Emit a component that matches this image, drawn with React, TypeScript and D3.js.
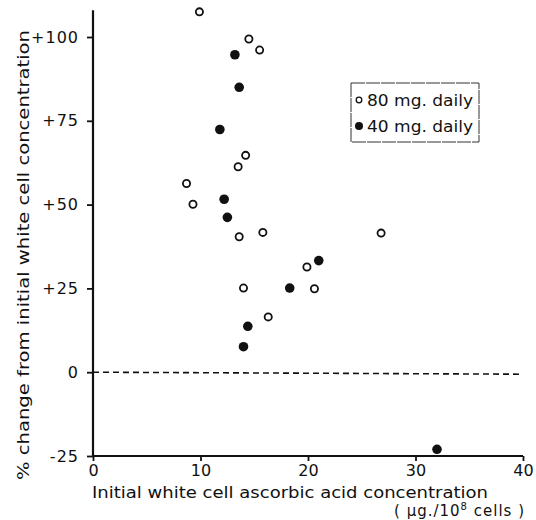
import * as React from "react"
import { select, scaleLinear, axisLeft, axisBottom } from "d3"

// 80 mg. daily (open circles)
const dose80X = [9.9, 14.5, 15.5, 14.2, 13.5, 8.7, 9.3, 13.6, 15.8, 26.8, 14.0, 16.3, 19.9, 20.6]
const dose80Y = [107.5, 99.4, 96.1, 64.7, 61.3, 56.3, 50.1, 40.4, 41.7, 41.5, 25.1, 16.5, 31.4, 24.9]

// 40 mg. daily (filled circles)
const dose40X = [13.2, 13.6, 11.8, 12.2, 12.5, 21.0, 18.3, 14.4, 14.0, 32.0]
const dose40Y = [94.7, 85, 72.4, 51.6, 46.2, 33.3, 25.1, 13.7, 7.6, -23]

const xTicks = [0, 10, 20, 30, 40]
const yTicks = [-25, 0, 25, 50, 75, 100]
const yTickLabels = ["-25", "0", "+25", "+50", "+75", "+100"]
const legendLabels = ["80 mg. daily", "40 mg. daily"]

const font = "'DejaVu Sans', sans-serif"

function ScatterChart() {
  const svgRef = React.useRef<SVGSVGElement>(null)
  const width = 536
  const height = 520

  React.useEffect(() => {
    const svg = select(svgRef.current)
    svg.selectAll("*").remove()

    const x = scaleLinear().domain([0, 40]).range([93, 523])
    const y = scaleLinear().domain([-25, 100]).range([456, 37])

    // y axis
    const yAxis = svg
      .append("g")
      .attr("transform", `translate(${x(0)},0)`)
      .call(
        axisLeft(y)
          .tickValues(yTicks)
          .tickSize(6)
          .tickPadding(8)
          .tickFormat((d, i) => yTickLabels[i])
      )
    yAxis.select(".domain").remove()
    yAxis
      .append("line")
      .attr("y1", y(108))
      .attr("y2", y(-25))
      .attr("stroke", "#111")
      .attr("stroke-width", 2.2)

    // x axis
    const xAxis = svg
      .append("g")
      .attr("transform", `translate(0,${y(-25)})`)
      .call(axisBottom(x).tickValues(xTicks).tickSize(5).tickPadding(4))
    xAxis.select(".domain").remove()
    xAxis
      .append("line")
      .attr("x1", x(0))
      .attr("x2", x(40))
      .attr("stroke", "#111")
      .attr("stroke-width", 2)

    svg
      .selectAll(".tick line")
      .attr("stroke", "#111")
      .attr("stroke-width", 1.8)
    svg
      .selectAll(".tick text")
      .attr("fill", "#111")
      .attr("font-family", font)
      .attr("font-size", 16)
    yAxis.selectAll(".tick text").attr("letter-spacing", 1)

    // dashed zero line
    svg
      .append("line")
      .attr("x1", x(0))
      .attr("x2", x(40))
      .attr("y1", y(0))
      .attr("y2", y(-0.6))
      .attr("stroke", "#111")
      .attr("stroke-width", 1.6)
      .attr("stroke-dasharray", "6,4")

    // points
    svg
      .append("g")
      .selectAll("circle")
      .data(dose80X)
      .join("circle")
      .attr("cx", (d) => x(d))
      .attr("cy", (d, i) => y(dose80Y[i]))
      .attr("r", 3.6)
      .attr("fill", "#fff")
      .attr("stroke", "#111")
      .attr("stroke-width", 1.8)

    svg
      .append("g")
      .selectAll("circle")
      .data(dose40X)
      .join("circle")
      .attr("cx", (d) => x(d))
      .attr("cy", (d, i) => y(dose40Y[i]))
      .attr("r", 4.8)
      .attr("fill", "#111")

    // legend
    const legend = svg.append("g")
    legend
      .append("rect")
      .attr("x", 351)
      .attr("y", 83)
      .attr("width", 128)
      .attr("height", 59)
      .attr("fill", "none")
      .attr("stroke", "#333")
      .attr("stroke-width", 1)
      .attr("stroke-dasharray", "14,1")
    legendLabels.forEach((label, i) => {
      const ly = 100 + i * 26
      legend
        .append("circle")
        .attr("cx", 359)
        .attr("cy", ly)
        .attr("r", i === 0 ? 2.8 : 4)
        .attr("fill", i === 0 ? "#fff" : "#111")
        .attr("stroke", "#111")
        .attr("stroke-width", i === 0 ? 1.3 : 0)
      legend
        .append("text")
        .attr("x", 367)
        .attr("y", ly + 6)
        .attr("font-family", font)
        .attr("font-size", 16)
        .attr("fill", "#111")
        .attr("textLength", 106)
        .attr("lengthAdjust", "spacingAndGlyphs")
        .text(label)
    })

    // axis titles
    svg
      .append("text")
      .attr("transform", "translate(29,255) rotate(-90)")
      .attr("text-anchor", "middle")
      .attr("font-family", font)
      .attr("font-size", 15)
      .attr("fill", "#111")
      .attr("textLength", 450)
      .attr("lengthAdjust", "spacingAndGlyphs")
      .text("% change from initial white cell concentration")

    svg
      .append("text")
      .attr("x", 92)
      .attr("y", 498)
      .attr("font-family", font)
      .attr("font-size", 15)
      .attr("fill", "#111")
      .attr("textLength", 396)
      .attr("lengthAdjust", "spacingAndGlyphs")
      .text("Initial white cell ascorbic acid concentration")

    const unit = svg
      .append("text")
      .attr("x", 525)
      .attr("y", 516)
      .attr("text-anchor", "end")
      .attr("font-family", font)
      .attr("font-size", 15)
      .attr("fill", "#111")
      .attr("letter-spacing", 1)
    unit.append("tspan").text("( µg./10")
    unit.append("tspan").attr("dy", -6).attr("font-size", 10).text("8")
    unit.append("tspan").attr("dy", 6).text(" cells )")
  }, [])

  return <svg width={width} height={height} ref={svgRef}></svg>
}

export default function App() {
  return (
    <div style={{ position: "absolute", left: 0, top: 0 }}>
      <ScatterChart />
    </div>
  )
}
